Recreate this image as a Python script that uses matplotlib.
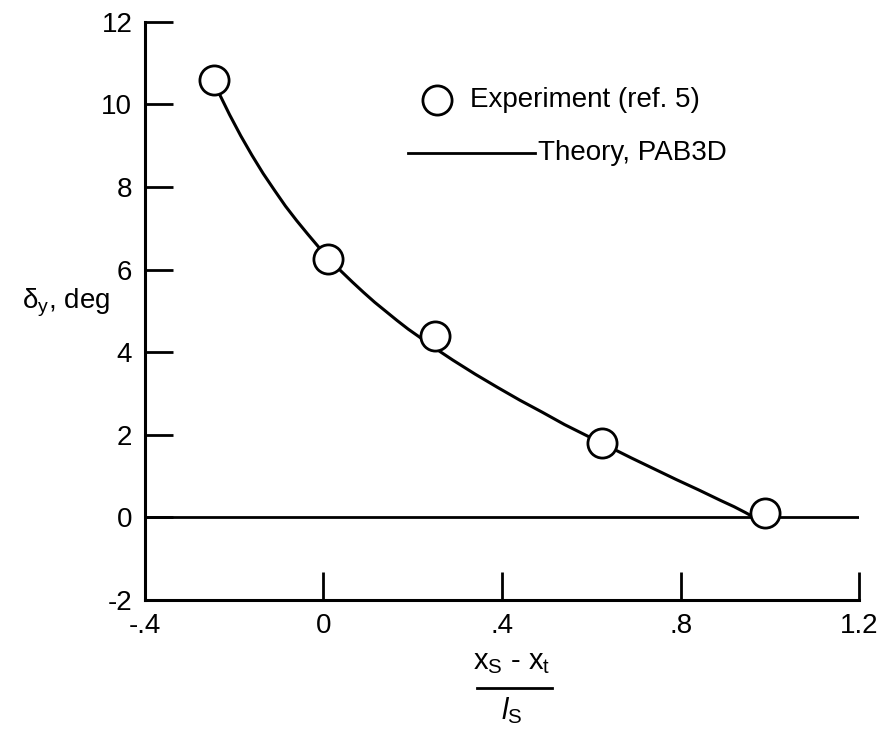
import matplotlib
matplotlib.use('Agg')
import matplotlib.pyplot as plt
from matplotlib.lines import Line2D

plt.rcParams['font.family'] = ['Liberation Sans', 'DejaVu Sans']
plt.rcParams['mathtext.fontset'] = 'custom'
plt.rcParams['mathtext.rm'] = 'Liberation Sans'
plt.rcParams['mathtext.it'] = 'Liberation Sans:italic'
plt.rcParams['axes.unicode_minus'] = False

# 实验点 (ref. 5)
exp_x = [-0.245, 0.01, 0.25, 0.625, 0.99]
exp_y = [10.6, 6.26, 4.4, 1.8, 0.12]

# 理论曲线 PAB3D (从图上读出的点)
theory_x = [-0.235, -0.21, -0.185, -0.16, -0.135, -0.11, -0.085, -0.06,
            -0.035, -0.01, 0.015, 0.04, 0.065, 0.09, 0.115, 0.14, 0.165,
            0.19, 0.215, 0.24, 0.29, 0.34, 0.39, 0.44, 0.49, 0.54, 0.59,
            0.64, 0.69, 0.74, 0.79, 0.84, 0.89, 0.92, 0.945, 0.965]
theory_y = [10.30, 9.75, 9.24, 8.77, 8.33, 7.93, 7.54, 7.19,
            6.86, 6.54, 6.24, 5.96, 5.70, 5.45, 5.21, 4.99, 4.77,
            4.56, 4.37, 4.17, 3.81, 3.47, 3.15, 2.84, 2.55, 2.25, 1.98,
            1.71, 1.44, 1.18, 0.92, 0.67, 0.41, 0.26, 0.12, 0.0]

# 零线
zero_x = [-0.4, 1.2]
zero_y = [0, 0]

x_ticks = [-0.4, 0, 0.4, 0.8, 1.2]
x_tick_labels = ['-.4', '0', '.4', '.8', '1.2']
y_ticks = [-2, 0, 2, 4, 6, 8, 10, 12]

fig = plt.figure(figsize=(8.83, 7.3), dpi=100)
ax = fig.add_axes([0.164, 0.178, 0.809, 0.792])

ax.plot(zero_x, zero_y, color='black', lw=2, zorder=2)
ax.plot(theory_x, theory_y, color='black', lw=2.2, zorder=2)
ax.plot(exp_x, exp_y, 'o', ms=21, mfc='white', mec='black', mew=2, zorder=3,
        clip_on=False)

ax.set_xlim(-0.4, 1.2)
ax.set_ylim(-2, 12)
ax.set_xticks(x_ticks)
ax.set_xticklabels(x_tick_labels)
ax.set_yticks(y_ticks)

for s in ['top', 'right']:
    ax.spines[s].set_visible(False)
for s in ['left', 'bottom']:
    ax.spines[s].set_linewidth(2.2)

ax.tick_params(axis='both', direction='in', length=20, width=2,
               labelsize=20, pad=9)

# 图例 (手工摆放)
ax.plot([0.409], [0.865], 'o', ms=21, mfc='white', mec='black', mew=2,
        transform=ax.transAxes, clip_on=False)
ax.text(0.455, 0.865, 'Experiment (ref. 5)', transform=ax.transAxes,
        fontsize=20, va='center', ha='left')
ax.plot([0.368, 0.546], [0.773, 0.773], color='black', lw=2,
        transform=ax.transAxes, clip_on=False)
ax.text(0.551, 0.773, 'Theory, PAB3D', transform=ax.transAxes,
        fontsize=20, va='center', ha='left')

# y轴标签
fig.text(0.025, 1 - 303 / 730, r'$\mathregular{\delta_y}$, deg', fontsize=20,
         ha='left', va='center')

# x轴标签 (分式)
fig.text(512 / 883, 1 - 662 / 730, r'$\mathregular{x_S}$ - $\mathregular{x_t}$',
         fontsize=21, ha='center', va='center')
fig.add_artist(Line2D([477 / 883, 552 / 883], [1 - 688 / 730, 1 - 688 / 730],
                      color='black', lw=2))
fig.text(512 / 883, 1 - 711 / 730, r'$\mathregular{\mathit{l}_S}$', fontsize=21,
         ha='center', va='center')

plt.savefig('out.png', dpi=100)
